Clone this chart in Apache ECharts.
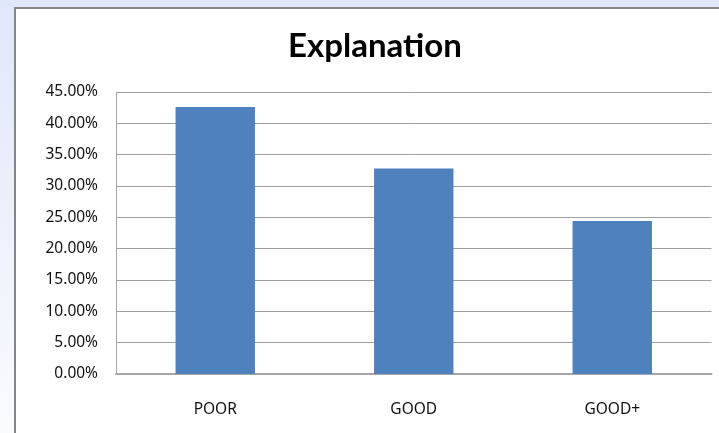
<!DOCTYPE html>
<html>
<head>
<meta charset="utf-8">
<script src="https://cdn.jsdelivr.net/npm/echarts@6/dist/echarts.min.js"></script>
<style>
  html, body { margin: 0; padding: 0; }
  #chart { width: 719px; height: 433px; }
</style>
</head>
<body>
<div id="chart"></div>
<script>
// Share of responses per rating, in percent
const categories = ['POOR', 'GOOD', 'GOOD+'];
const shares = [42.6, 32.8, 24.4];
const axisMax = 45;
const axisStep = 5;

const labelFont = 'Noto Sans';

const chart = echarts.init(document.getElementById('chart'));
chart.setOption({
  backgroundColor: {
    type: 'linear', x: 0, y: 0, x2: 0, y2: 1,
    colorStops: [
      { offset: 0, color: '#e1e7fa' },
      { offset: 1, color: '#fafbff' }
    ]
  },
  graphic: [{
    type: 'rect',
    z: -10,
    shape: { x: 15, y: 8, width: 720, height: 440 },
    style: { fill: '#ffffff', stroke: '#868686', lineWidth: 2 }
  }],
  title: {
    text: 'Explanation',
    left: 370,
    top: 25,
    textAlign: 'center',
    textStyle: {
      fontFamily: 'Lato',
      fontWeight: 'bold',
      fontSize: 33,
      color: '#000000'
    }
  },
  grid: { left: 116, top: 92, width: 595.5, height: 282 },
  xAxis: {
    type: 'category',
    data: categories,
    axisTick: { show: false },
    axisLine: { lineStyle: { color: '#a6a6a6', width: 2 } },
    axisLabel: {
      margin: 28,
      fontFamily: labelFont,
      fontSize: 15.5,
      color: '#111111'
    }
  },
  yAxis: {
    type: 'value',
    min: 0,
    max: axisMax,
    interval: axisStep,
    axisLine: { show: true, lineStyle: { color: '#a6a6a6', width: 1 } },
    axisTick: { show: false },
    splitLine: { lineStyle: { color: '#a0a0a0', width: 1 } },
    axisLabel: {
      margin: 18,
      padding: [4, 0, 0, 0],
      fontFamily: labelFont,
      fontSize: 15.5,
      color: '#111111',
      formatter: v => v.toFixed(2) + '%'
    }
  },
  series: [{
    type: 'bar',
    data: shares,
    barWidth: '40%',
    itemStyle: { color: '#4f81bd' },
    animation: false
  }],
  animation: false
});
</script>
</body>
</html>
